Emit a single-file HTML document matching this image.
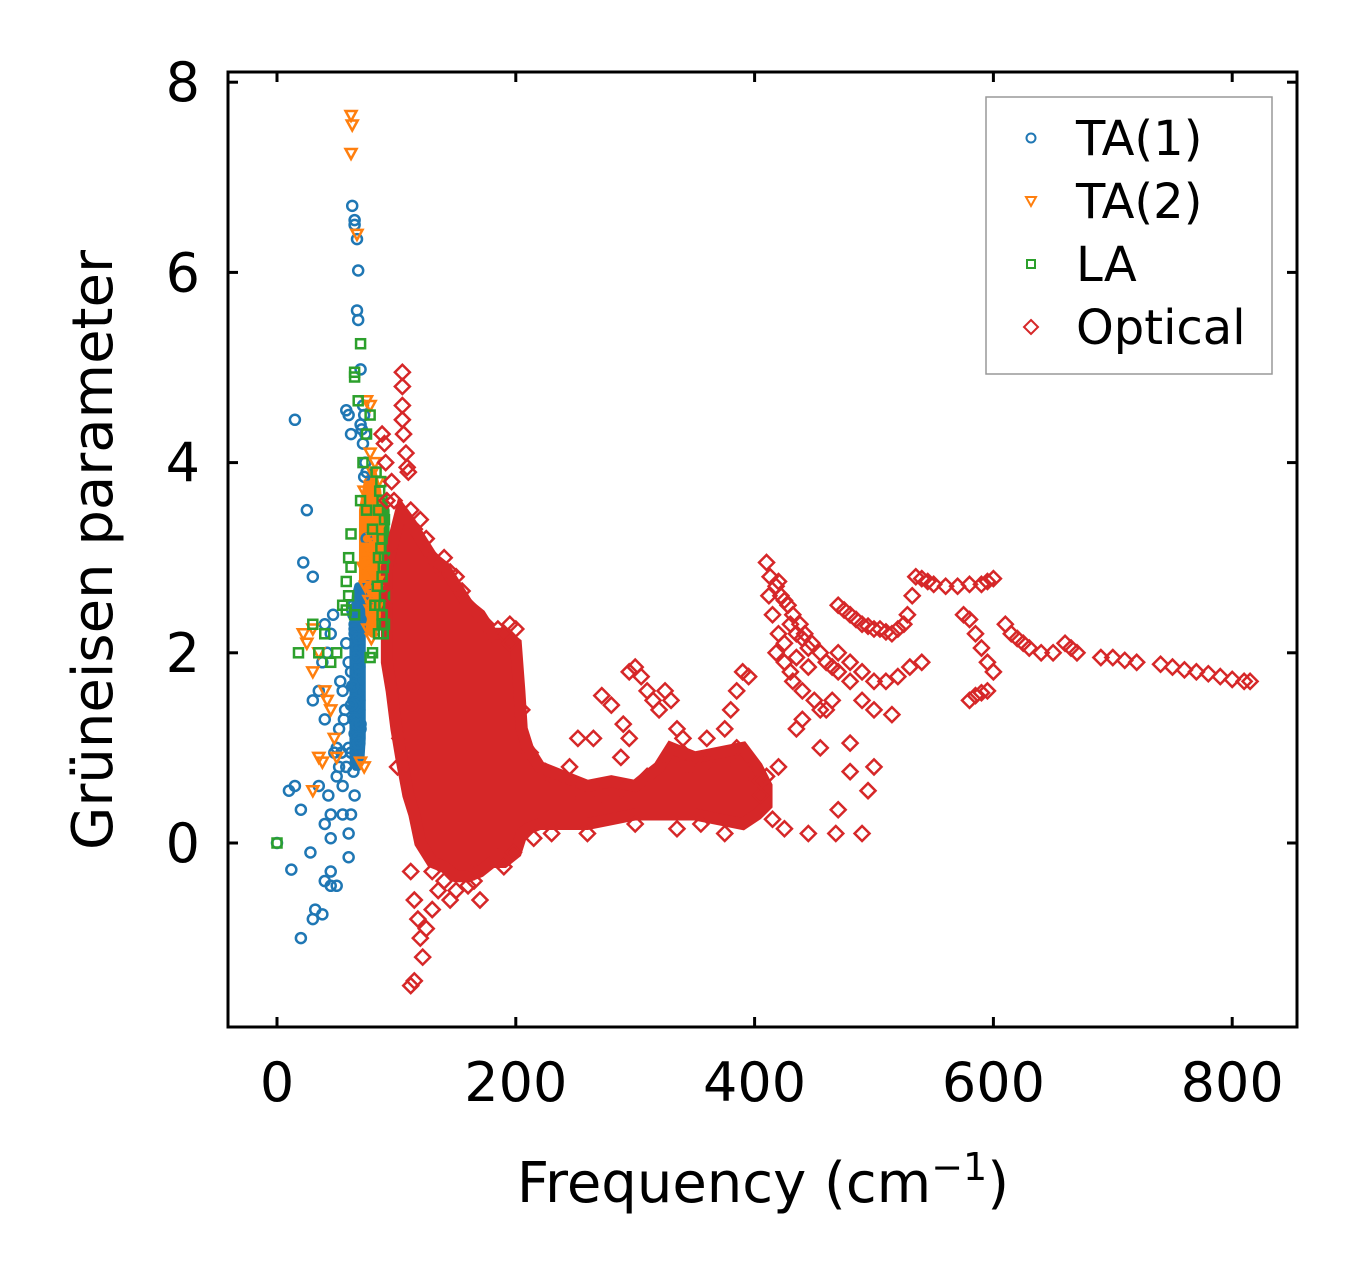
<!DOCTYPE html>
<html><head><meta charset="utf-8"><style>
body{margin:0;background:#fff}
svg text{font-family:"DejaVu Sans","Liberation Sans",sans-serif;fill:#000}
</style></head><body>
<svg id="chart" width="1357" height="1276" viewBox="0 0 1357 1276" xmlns="http://www.w3.org/2000/svg">
<rect x="0" y="0" width="1357" height="1276" fill="#fff"/>
<g id="core"></g>
<g id="marks"></g>
<rect x="228" y="72" width="1069" height="955" fill="none" stroke="#000" stroke-width="3"/>
<g id="ticks"></g>
<text x="763" y="1202" font-size="56" text-anchor="middle">Frequency (cm<tspan dy="-22" font-size="38">−1</tspan><tspan dy="22">)</tspan></text>
<text transform="translate(112,550) rotate(-90)" font-size="56" text-anchor="middle">Grüneisen parameter</text>
<g>
<rect x="986" y="97" width="286" height="277" fill="#fff" stroke="#999" stroke-width="1.5"/>
<circle cx="1031" cy="138" r="4.5" fill="none" stroke="#1f77b4" stroke-width="2"/>
<text x="1076" y="155" font-size="48">TA(1)</text>
<path d="M1026,197 L1036,197 L1031,206 Z" fill="none" stroke="#ff7f0e" stroke-width="2"/>
<text x="1076" y="218" font-size="48">TA(2)</text>
<rect x="1027" y="260" width="8" height="8" fill="none" stroke="#2ca02c" stroke-width="2"/>
<text x="1076" y="281" font-size="48">LA</text>
<path d="M1031,320 L1038,327 L1031,334 L1024,327 Z" fill="none" stroke="#d62728" stroke-width="2"/>
<text x="1076" y="344" font-size="48">Optical</text>
</g>
</svg>
<script>
const xTicks=[0,200,400,600,800];
const yTicks=[0,2,4,6,8];
const ta1X=[15,25,22,30,0,10,15,20,12,28,20,30,32,38,40,45,45,50,35,40,43,45,30,35,40,38,42,45,40,47,50,48,45,52,55,55,58,60,60,62,58,60,62,63,65,65,67,68,67,68,70,72,70,75,73,75,76,76,55,60,58,62,64,66,68,66,65,70,68,60,57,53,64,65,66,67,68,69,64,65,66,67,68,69,64,65,66,67,68,69,63,65,67,69,63,65,67,69,62,64,66,68,70,62,64,66,68,70,72,74,74,73,72,71,50,52,56,54];
const ta1Y=[4.45,3.5,2.95,2.8,0,0.55,0.6,0.35,-0.28,-0.1,-1.0,-0.8,-0.7,-0.75,-0.4,-0.45,-0.3,-0.45,0.6,0.2,0.5,0.3,1.5,1.6,1.3,1.9,2.0,2.2,2.3,2.4,1.0,0.95,0.05,0.8,0.3,0.6,0.8,0.1,-0.15,0.3,4.55,4.5,4.3,6.7,6.55,6.5,6.35,6.02,5.6,5.5,4.98,4.6,4.4,3.9,3.85,3.2,2.7,2.55,1.6,1.9,2.1,1.8,1.5,1.2,1.0,0.9,0.5,1.2,1.35,1.0,1.4,1.7,2.5,2.3,2.1,1.9,1.7,1.5,2.4,2.2,2.0,1.8,1.6,1.4,1.3,1.15,1.0,0.85,1.1,2.6,2.45,2.25,2.05,1.85,1.65,1.45,1.25,1.05,0.95,0.75,0.85,1.05,1.25,1.45,1.65,1.95,2.15,2.35,2.6,4.3,4.0,4.5,4.2,4.35,0.7,1.2,1.3,0.95];
const ta2X=[62,63,62,67,75,78,78,82,80,85,82,78,80,85,80,78,82,80,85,22,25,30,35,30,40,42,45,48,35,38,30,50,70,73,73,75,76,78,76,72,74,78,80,82,79,81,77,80,83,78,81,76,79,82,80,84,77,79];
const ta2Y=[7.65,7.55,7.25,6.4,4.65,4.6,4.1,4.0,3.9,3.8,3.6,3.5,3.4,3.3,3.2,3.0,2.8,2.6,2.5,2.2,2.1,2.25,2.0,1.8,1.6,1.5,1.4,1.1,0.9,0.85,0.55,0.9,0.85,0.8,3.7,3.6,3.5,3.3,3.1,2.9,2.7,3.75,3.55,3.45,3.35,3.15,2.95,2.85,2.65,2.45,2.35,2.25,3.05,3.25,3.65,2.75,2.55,2.15];
const laX=[18,30,35,40,45,50,55,58,60,62,65,65,70,68,72,70,75,80,85,88,90,88,90,88,90,88,85,80,78,90,85,82,75,78,62,65,60,58,0,86,87,89,84,86,88,83,87,89];
const laY=[2.0,2.3,2.0,2.2,1.9,2.0,2.5,2.75,3.0,3.25,4.95,4.9,5.25,4.65,4.0,3.6,3.5,3.3,3.5,3.6,3.4,3.2,3.0,2.8,2.6,2.4,2.2,2.0,1.95,2.3,3.0,2.5,4.3,4.5,2.9,2.4,2.6,2.45,0,3.7,3.1,2.9,2.7,2.5,2.3,3.9,3.8,2.2];
// dense bands (freq, low, high)
const laBandFreq=[84,88,91];
const laBandLow=[2.3,2.3,2.4];
const laBandHigh=[3.4,3.6,3.5];
const ta2BandFreq=[72,76,80,84,86];
const ta2BandLow=[2.6,2.3,2.2,2.4,2.8];
const ta2BandHigh=[3.5,3.8,3.9,3.7,3.4];
const ta1BandFreq=[64,66,68,70,71];
const ta1BandLow=[0.9,0.8,0.8,0.9,1.1];
const ta1BandHigh=[2.2,2.6,2.7,2.6,2.3];
const coreFreq=[92,96,100,104,110,115,120,130,140,150,160,170,180,190,200,203,205,210,220,240,260,280,300,320,330,340,350,370,390,402,410,410,402,390,370,350,330,300,280,260,240,220,210,205,200,190,180,170,160,150,140,130,120,115,110,104,100,96,92];
const coreY=[2.9,3.1,3.3,3.5,3.4,3.3,3.2,3.0,2.9,2.7,2.5,2.4,2.2,2.2,2.1,1.6,1.2,1.0,0.8,0.7,0.6,0.65,0.6,0.8,1.0,0.95,0.9,0.95,1.0,0.8,0.6,0.4,0.3,0.2,0.25,0.3,0.3,0.3,0.25,0.2,0.2,0.2,0.15,0.1,-0.1,-0.2,-0.2,-0.3,-0.35,-0.35,-0.25,-0.2,0.0,0.3,0.5,0.9,1.2,1.6,1.9];
const optX=[105,105,105,105,106,108,109,110,90,91,112,115,112,115,118,120,122,115,112,125,130,135,140,145,170,165,103,101,
295,300,305,310,315,320,325,330,335,340,272,280,290,295,252,265,245,288,340,360,380,385,390,395,375,385,
410,413,418,422,428,432,438,442,448,455,460,465,470,420,425,430,435,440,445,425,430,432,440,450,455,460,415,420,412,418,425,435,445,
470,475,480,485,490,495,500,505,510,515,520,525,528,532,535,540,545,550,560,570,580,590,595,600,
470,480,490,500,510,520,530,540,575,580,585,590,595,600,580,585,590,595,610,615,620,625,630,640,650,660,665,670,690,700,710,720,740,750,760,770,780,790,800,810,815,
405,415,425,445,468,490,470,480,495,500,480,455,440,435,420,410,500,515,490,465,480,
95,100,98,96,120,125,130,135,140,150,160,170,180,190,195,200,150,165,185,198,88,92,
145,155,175,185,195,205,212,225,235,250,270,290,310,330,345,360,380,395,405,215,230,260,300,335,355,375,160,190,130];
const optY=[4.95,4.8,4.6,4.45,4.3,4.1,3.95,3.9,4.2,4.0,3.5,3.3,-0.3,-0.6,-0.8,-1.0,-1.2,-1.45,-1.5,-0.9,-0.7,-0.5,-0.4,-0.6,-0.6,-0.4,1.1,0.8,
1.8,1.85,1.75,1.6,1.5,1.4,1.6,1.5,1.2,1.1,1.55,1.45,1.25,1.1,1.1,1.1,0.8,0.9,0.95,1.1,1.4,1.6,1.8,1.75,1.2,1.0,
2.95,2.8,2.7,2.6,2.5,2.4,2.3,2.2,2.1,2.0,1.9,1.85,1.8,2.75,2.55,2.3,2.2,2.15,2.05,1.9,1.8,1.7,1.6,1.5,1.4,1.4,2.4,2.2,2.6,2.0,2.1,1.95,1.85,
2.5,2.45,2.4,2.35,2.3,2.28,2.25,2.25,2.22,2.2,2.25,2.3,2.4,2.6,2.8,2.78,2.75,2.72,2.7,2.7,2.72,2.72,2.75,2.78,
2.0,1.9,1.8,1.7,1.7,1.75,1.85,1.9,2.4,2.35,2.2,2.05,1.9,1.8,1.5,1.55,1.58,1.6,2.3,2.2,2.15,2.1,2.05,2.0,2.0,2.1,2.05,2.0,1.95,1.95,1.92,1.9,1.88,1.85,1.82,1.8,1.78,1.75,1.72,1.7,1.7,
0.5,0.25,0.15,0.1,0.1,0.1,0.35,0.75,0.55,0.8,1.05,1.0,1.3,1.2,0.8,0.7,1.4,1.35,1.5,1.5,1.7,
2.6,3.0,3.6,3.8,3.4,3.2,3.0,2.9,3.0,2.8,2.5,2.3,2.2,2.2,2.3,2.25,-0.5,-0.3,-0.15,-0.1,4.3,3.6,
2.85,2.65,2.3,2.25,2.1,1.4,0.95,0.75,0.65,0.55,0.5,0.55,0.7,0.85,0.8,0.85,0.9,0.75,0.65,0.05,0.1,0.1,0.2,0.15,0.2,0.1,-0.45,-0.25,-0.3];
const X0=277,XS=1.194,Y0=843,YS=95.1;
function sx(v){return X0+v*XS;}
function sy(v){return Y0-v*YS;}
const NS='http://www.w3.org/2000/svg';
const marks=document.getElementById('marks');
const core=document.getElementById('core');
const ticks=document.getElementById('ticks');
function mk(tag){return document.createElementNS(NS,tag);}
function band(fr,lo,hi,color,w){
  let p=[];fr.forEach((f,i)=>p.push(sx(f)+','+sy(hi[i])));
  for(let i=fr.length-1;i>=0;i--)p.push(sx(fr[i])+','+sy(lo[i]));
  const g=mk('polygon');g.setAttribute('points',p.join(' '));g.setAttribute('fill',color);g.setAttribute('stroke',color);g.setAttribute('stroke-width',w);g.setAttribute('stroke-linejoin','round');
  return g;
}
const b1=band(laBandFreq,laBandLow,laBandHigh,'#2ca02c',8);


core.appendChild(b1);
const b2=band(ta2BandFreq,ta2BandLow,ta2BandHigh,'#ff7f0e',8);


core.appendChild(b2);
const b3=band(ta1BandFreq,ta1BandLow,ta1BandHigh,'#1f77b4',8);


core.appendChild(b3);
const poly=mk('polygon');
poly.setAttribute('points',coreFreq.map((f,i)=>sx(f)+','+sy(coreY[i])).join(' '));
poly.setAttribute('fill','#d62728');
poly.setAttribute('stroke','#d62728');
poly.setAttribute('stroke-width','12');
poly.setAttribute('stroke-linejoin','miter');


marks.appendChild(poly);
ta1X.forEach((f,i)=>{const c=mk('circle');c.setAttribute('cx',sx(f));c.setAttribute('cy',sy(ta1Y[i]));c.setAttribute('r',5);c.setAttribute('fill','none');c.setAttribute('stroke','#1f77b4');c.setAttribute('stroke-width',2.5);


marks.appendChild(c);});
ta2X.forEach((f,i)=>{const x=sx(f),y=sy(ta2Y[i]);const p=mk('path');p.setAttribute('d',`M${x-5.5},${y-4.5} L${x+5.5},${y-4.5} L${x},${y+5.5} Z`);p.setAttribute('fill','none');p.setAttribute('stroke','#ff7f0e');p.setAttribute('stroke-width',2.5);


marks.appendChild(p);});
laX.forEach((f,i)=>{const r=mk('rect');r.setAttribute('x',sx(f)-4.5);r.setAttribute('y',sy(laY[i])-4.5);r.setAttribute('width',9);r.setAttribute('height',9);r.setAttribute('fill','none');r.setAttribute('stroke','#2ca02c');r.setAttribute('stroke-width',2.5);


marks.appendChild(r);});
optX.forEach((f,i)=>{const x=sx(f),y=sy(optY[i]);const p=mk('path');p.setAttribute('d',`M${x},${y-7.5} L${x+7.5},${y} L${x},${y+7.5} L${x-7.5},${y} Z`);p.setAttribute('fill','none');p.setAttribute('stroke','#d62728');p.setAttribute('stroke-width',2.5);


marks.appendChild(p);});
xTicks.forEach(v=>{const x=sx(v);
[[1027,1017],[72,82]].forEach(([a,b])=>{const l=mk('line');l.setAttribute('x1',x);l.setAttribute('x2',x);l.setAttribute('y1',a);l.setAttribute('y2',b);l.setAttribute('stroke','#000');l.setAttribute('stroke-width',3);


ticks.appendChild(l);});
const t=mk('text');t.setAttribute('x',x);t.setAttribute('y',1101);t.setAttribute('font-size',54);t.setAttribute('text-anchor','middle');t.textContent=v;


ticks.appendChild(t);});
yTicks.forEach(v=>{const y=sy(v);
[[228,238],[1297,1287]].forEach(([a,b])=>{const l=mk('line');l.setAttribute('x1',a);l.setAttribute('x2',b);l.setAttribute('y1',y);l.setAttribute('y2',y);l.setAttribute('stroke','#000');l.setAttribute('stroke-width',3);


ticks.appendChild(l);});
const t=mk('text');t.setAttribute('x',200);t.setAttribute('y',y+19);t.setAttribute('font-size',54);t.setAttribute('text-anchor','end');t.textContent=v;


ticks.appendChild(t);});
</script>
</body></html>
